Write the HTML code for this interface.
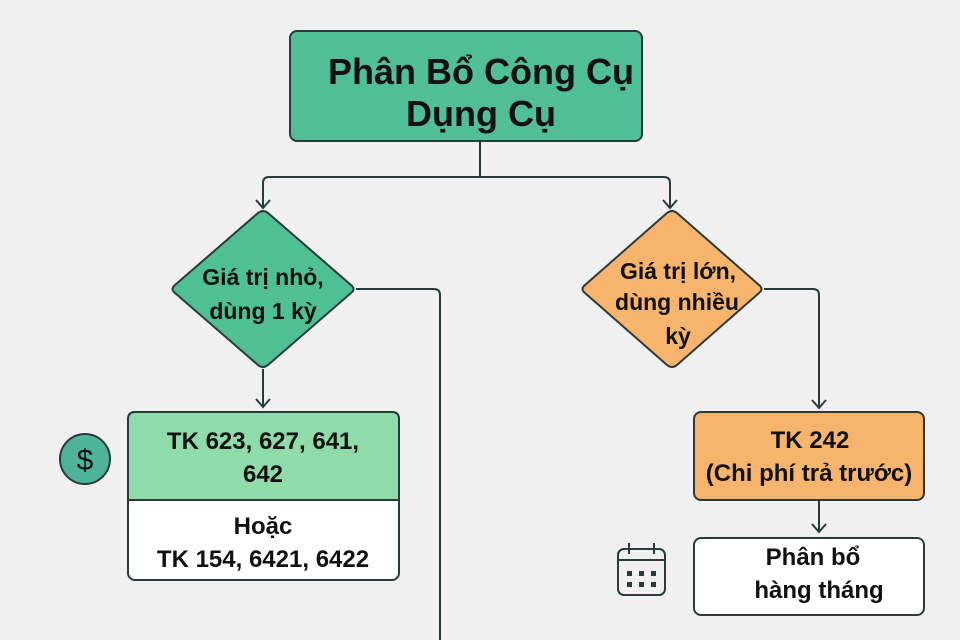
<!DOCTYPE html>
<html><head><meta charset="utf-8"><style>
body{margin:0;width:960px;height:640px;background:#f0f0f0;overflow:hidden}
svg{display:block}
text{font-family:"Liberation Sans",sans-serif;font-weight:bold;fill:#111;text-anchor:middle}
</style></head><body>
<svg width="960" height="640" viewBox="0 0 960 640">
<g fill="none" stroke="#2a3a3a" stroke-width="2">
<path d="M480 141V177"/>
<path d="M263 207V183Q263 177 269 177H664Q670 177 670 183V207"/>
<path d="M256 200L263 208L270 200M663 200L670 208L677 200"/>
<path d="M356 289H434Q440 289 440 295V640"/>
<path d="M263 369V407M256 399L263 407L270 399"/>
<path d="M764 289H813Q819 289 819 295V408M812 400L819 408L826 400"/>
<path d="M819 500V532M812 524L819 532L826 524"/>
</g>
<rect x="290" y="31" width="352" height="110" rx="7" fill="#50bf98" stroke="#2a3a3a" stroke-width="2"/>
<text x="481" y="84" font-size="36">Phân Bổ Công Cụ</text>
<text x="481" y="126" font-size="36">Dụng Cụ</text>
<path d="M258 213Q263 209 268 213L351 285Q356 289 351 293L268 365Q263 369 258 365L175 293Q170 289 175 285Z" fill="#4fbf94" stroke="#2a3a3a" stroke-width="2"/>
<text x="263" y="285" font-size="23">Giá trị nhỏ,</text>
<text x="263" y="319" font-size="23">dùng 1 kỳ</text>
<path d="M667 213Q672 209 677 213L759 285Q764 289 759 293L677 365Q672 369 667 365L585 293Q580 289 585 285Z" fill="#f7b46c" stroke="#2a3a3a" stroke-width="2"/>
<text x="678" y="279" font-size="23">Giá trị lớn,</text>
<text x="677" y="310" font-size="23">dùng nhiều</text>
<text x="678" y="344" font-size="23">kỳ</text>
<rect x="128" y="412" width="271" height="168" rx="7" fill="#fff" stroke="#2a3a3a" stroke-width="2"/>
<path d="M128 500V419Q128 412 135 412H392Q399 412 399 419V500Z" fill="#8fdbaa" stroke="#2a3a3a" stroke-width="2"/>
<text x="263" y="449" font-size="24">TK 623, 627, 641,</text>
<text x="263" y="482" font-size="24">642</text>
<text x="263" y="534" font-size="24">Hoặc</text>
<text x="263" y="567" font-size="24">TK 154, 6421, 6422</text>
<circle cx="85" cy="459" r="25" fill="#4fb39a" stroke="#2a3a3a" stroke-width="2"/>
<text x="85" y="470" font-size="30" style="font-weight:normal" fill="#1a2a2a">$</text>
<rect x="694" y="412" width="230" height="88" rx="7" fill="#f7b46c" stroke="#2a3a3a" stroke-width="2"/>
<text x="810" y="448" font-size="24">TK 242</text>
<text x="809" y="481" font-size="24">(Chi phí trả trước)</text>
<rect x="694" y="538" width="230" height="77" rx="7" fill="#fff" stroke="#2a3a3a" stroke-width="2"/>
<text x="813" y="565" font-size="24">Phân bổ</text>
<text x="819" y="598" font-size="24">hàng tháng</text>
<g fill="none" stroke="#2a3a3a" stroke-width="2">
<rect x="618" y="549" width="47" height="46" rx="6"/>
<path d="M618 560H665M629 543V554M654 543V554"/>
</g>
<g fill="#2a3a3a"><rect x="627" y="571" width="5" height="5"/><rect x="639" y="571" width="5" height="5"/><rect x="651" y="571" width="5" height="5"/><rect x="627" y="582" width="5" height="5"/><rect x="639" y="582" width="5" height="5"/><rect x="651" y="582" width="5" height="5"/></g>
</svg>
</body></html>
